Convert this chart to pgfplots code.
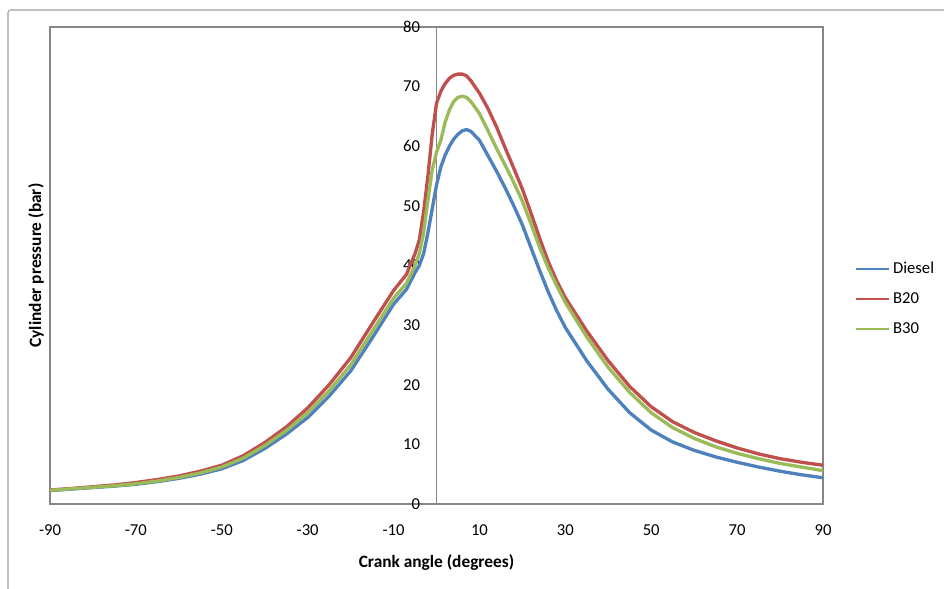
\documentclass[border=0pt]{standalone}
\usepackage{fontspec}
\setmainfont{Carlito}
\usepackage{pgfplots}
\pgfplotsset{compat=1.18}

\definecolor{xlblue}{HTML}{4F81BD}
\definecolor{xlred}{HTML}{C0504D}
\definecolor{xlgreen}{HTML}{9BBB59}
\definecolor{frame}{HTML}{868686}

\begin{document}
\begin{tikzpicture}
% picture is 944x588 px, 1 px = 0.75pt
\useasboundingbox (0,0) rectangle (708pt,441pt);
\draw[frame!80, line width=0.8pt, rounded corners=2pt]
  (6pt,-5pt) -- (6pt,433.5pt) -- (715pt,433.5pt);

\begin{axis}[
  at={(37.5pt,63pt)}, anchor=south west,
  scale only axis, width=579.75pt, height=357.75pt,
  xmin=-90, xmax=90, ymin=0, ymax=80,
  axis line style={frame, line width=0.8pt},
  xtick={-90,-70,-50,-30,-10,10,30,50,70,90},
  ytick={0,10,...,80},
  major tick length=0pt,
  tick label style={font=\fontsize{12.5}{14}\selectfont},
  /pgf/number format/assume math mode=true,
  xticklabel style={yshift=-12pt},
  yticklabel style={anchor=east, xshift=281pt},
  legend style={at={(axis description cs:1.036,0.43)}, anchor=west,
    draw=none, fill=none, font=\fontsize{12.5}{14}\selectfont,
    row sep=9pt, legend cell align=left},
  legend image code/.code={\draw[#1, line width=1.5pt] (0pt,0pt) -- (25pt,0pt);},
  every axis plot/.append style={line width=2.5pt, line join=round},
  clip=false,
]
\draw[frame, line width=0.8pt] (axis cs:0,0) -- (axis cs:0,80);

\addplot[xlblue] coordinates {
(-90,2.25) (-85,2.5) (-80,2.75) (-75,3.0) (-70,3.3) (-65,3.75) (-60,4.3) (-55,5.0)
(-50,5.9) (-45,7.3) (-40,9.3) (-35,11.7) (-30,14.5) (-25,18.1) (-20,22.3)
(-15,27.8) (-10,33.5) (-7,36.0) (-5,38.8) (-4,40.0) (-3,42.0) (-2,45.5)
(-1,49.5) (0,53.5) (1,56.5) (2,58.5) (3,60.0) (4,61.2) (5,62.0) (6,62.6)
(7,62.8) (8,62.5) (10,61.0) (12,58.4) (14,55.8) (16,53.0) (18,50.0) (20,46.8)
(22,43.0) (24,39.2) (26,35.6) (28,32.4) (30,29.6) (35,24.0) (40,19.2)
(45,15.3) (50,12.4) (55,10.4) (60,9.0) (65,7.9) (70,7.0) (75,6.2) (80,5.5)
(85,4.9) (90,4.4)
};
\addlegendentry{Diesel}

\addplot[xlred] coordinates {
(-90,2.35) (-85,2.6) (-80,2.9) (-75,3.2) (-70,3.6) (-65,4.1) (-60,4.7) (-55,5.5)
(-50,6.5) (-45,8.1) (-40,10.3) (-35,12.9) (-30,16.1) (-25,20.0) (-20,24.5)
(-15,30.2) (-10,35.8) (-7,38.5) (-5,42.0) (-4,44.3) (-3,49.0) (-2,55.0)
(-1,62.0) (0,67.2) (1,69.2) (2,70.5) (3,71.4) (4,71.9) (5,72.1) (6,72.1)
(7,71.8) (8,71.0) (10,68.9) (12,66.3) (14,63.2) (16,59.7) (18,56.3) (20,52.8)
(22,48.8) (24,44.6) (26,40.7) (28,37.4) (30,34.6) (35,29.0) (40,24.0)
(45,19.7) (50,16.3) (55,13.8) (60,12.0) (65,10.6) (70,9.4) (75,8.4) (80,7.6)
(85,7.0) (90,6.5)
};
\addlegendentry{B20}

\addplot[xlgreen] coordinates {
(-90,2.3) (-85,2.55) (-80,2.8) (-75,3.05) (-70,3.4) (-65,3.85) (-60,4.45) (-55,5.2)
(-50,6.2) (-45,7.7) (-40,9.8) (-35,12.3) (-30,15.3) (-25,19.0) (-20,23.3)
(-15,28.9) (-10,34.5) (-7,37.0) (-5,40.0) (-4,42.0) (-3,45.5) (-2,51.0)
(-1,56.0) (0,59.0) (1,61.0) (2,64.0) (3,66.1) (4,67.5) (5,68.2) (6,68.4)
(7,68.2) (8,67.5) (10,65.5) (12,62.6) (14,59.6) (16,56.8) (18,53.9) (20,50.8)
(22,47.0) (24,43.1) (26,39.6) (28,36.6) (30,33.8) (35,28.0) (40,22.9)
(45,18.7) (50,15.3) (55,12.8) (60,11.0) (65,9.6) (70,8.5) (75,7.6) (80,6.8)
(85,6.2) (90,5.6)
};
\addlegendentry{B30}

\node[rotate=90, anchor=south, font=\bfseries\fontsize{13}{15}\selectfont]
  at ([xshift=-1pt]rel axis cs:0,0.5) {Cylinder pressure (bar)};
\node[anchor=center, font=\bfseries\fontsize{13}{15}\selectfont]
  at ([yshift=-44pt]rel axis cs:0.5,0) {Crank angle (degrees)};
\end{axis}
\end{tikzpicture}
\end{document}
